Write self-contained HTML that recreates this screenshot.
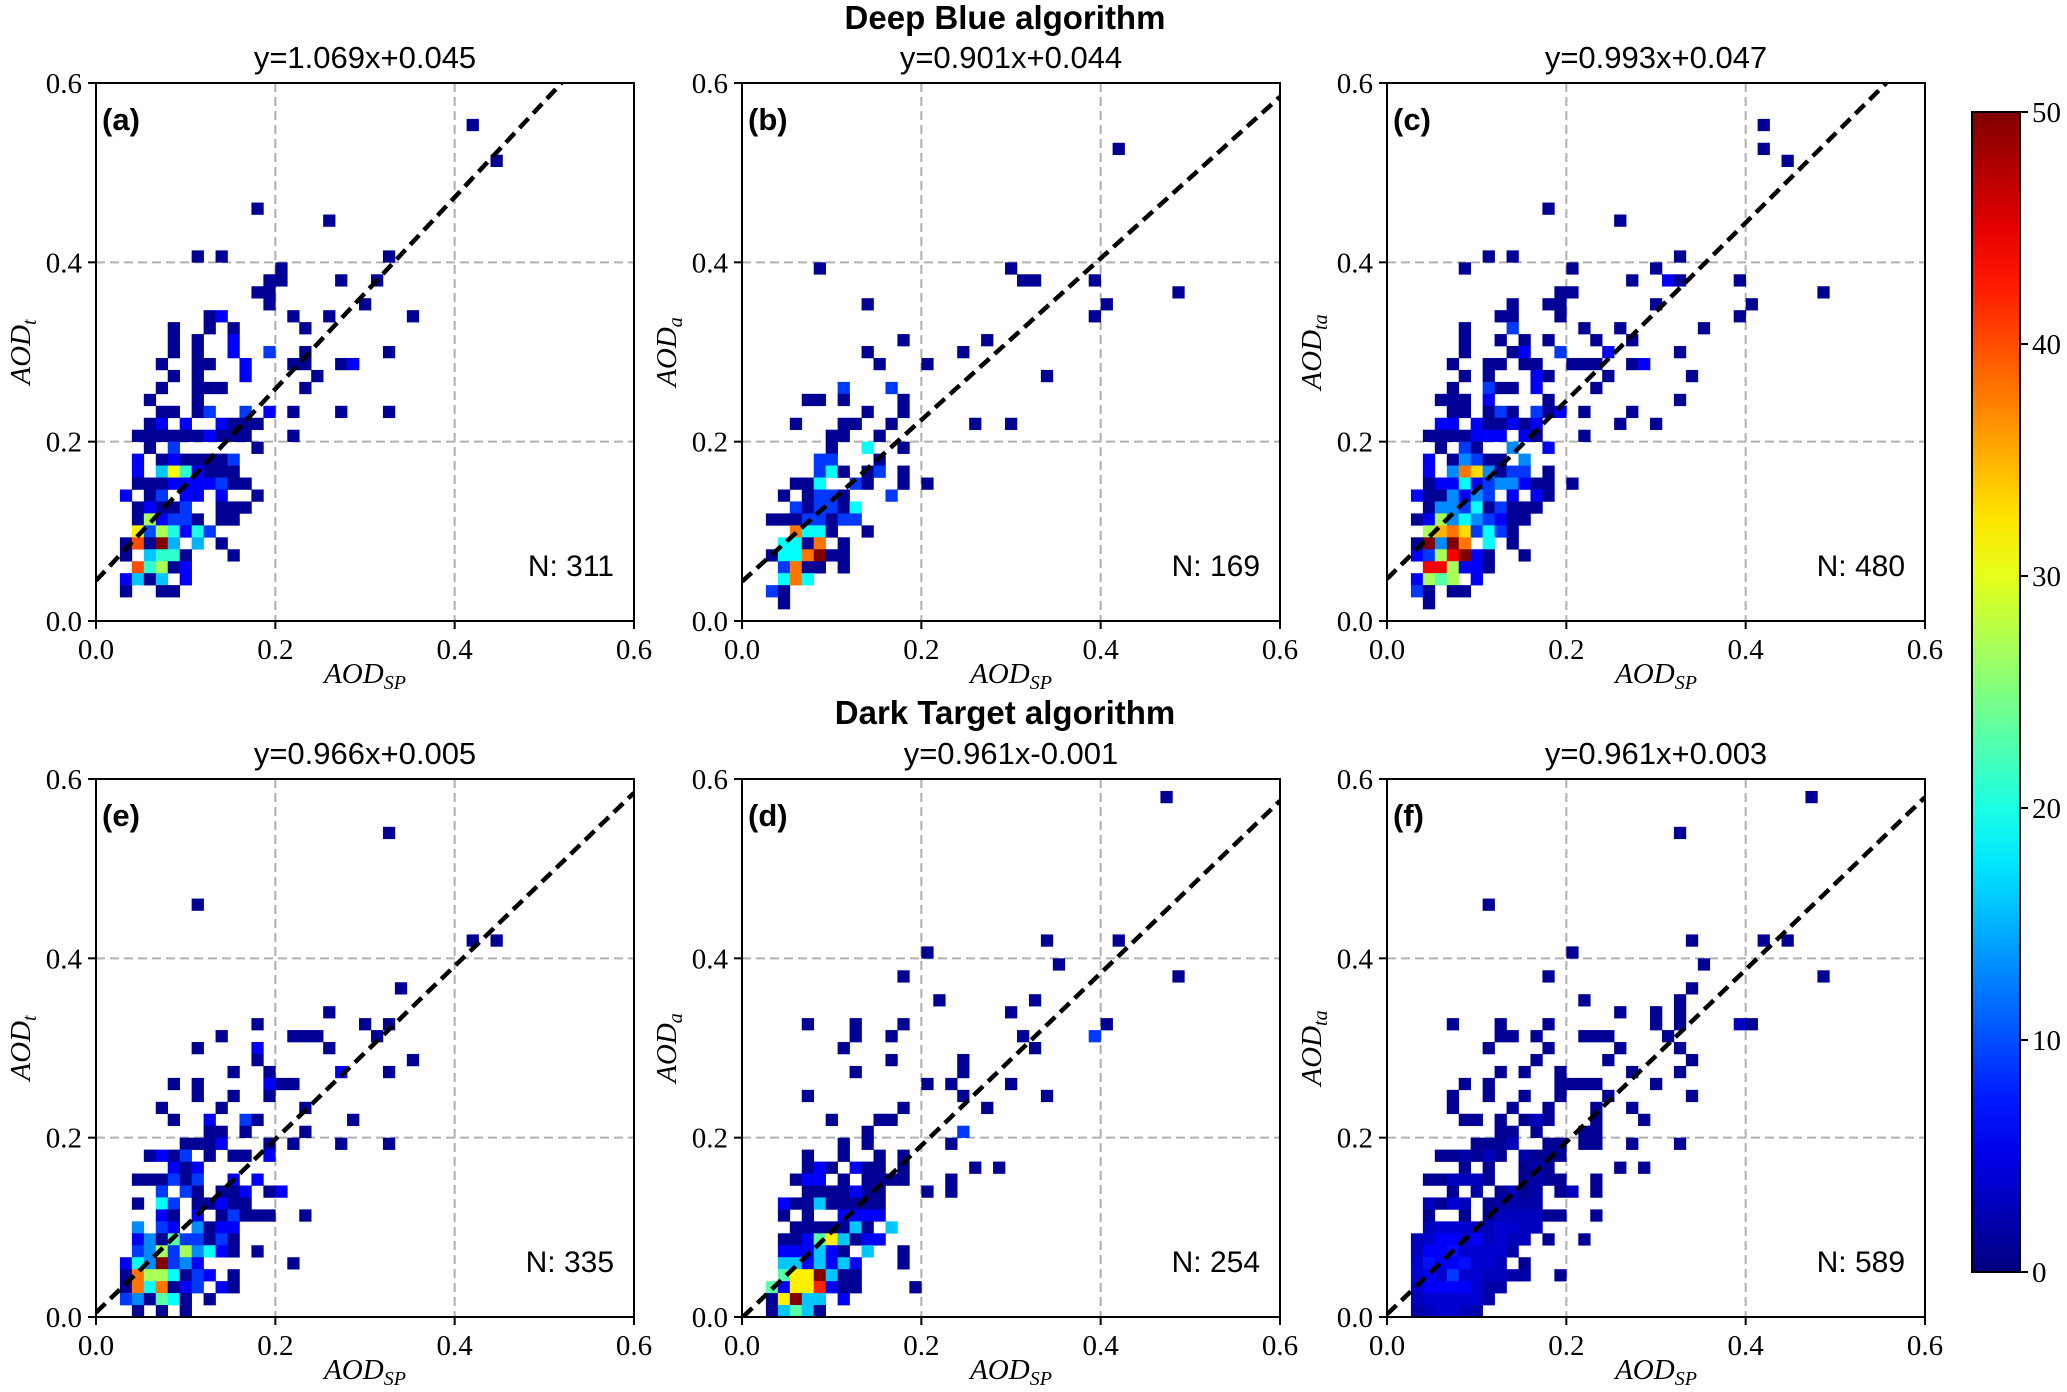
<!DOCTYPE html>
<html><head><meta charset="utf-8"><style>
html,body{margin:0;padding:0;background:#fff;}
svg{display:block;}
.sans{font-family:"Liberation Sans",sans-serif;}
.serif{font-family:"Liberation Serif",serif;}
</style></head>
<body>
<svg id="fig" width="2067" height="1392" viewBox="0 0 2067 1392" xmlns="http://www.w3.org/2000/svg">
<text x="1005" y="29" text-anchor="middle" class="sans" font-size="33" font-weight="bold">Deep Blue algorithm</text>
<text x="1005" y="724" text-anchor="middle" class="sans" font-size="33" font-weight="bold">Dark Target algorithm</text>
</svg>
<script>
const panelLetters = ["(a)","(b)","(c)","(e)","(d)","(f)"];
const slopes = [1.069,0.901,0.993,0.966,0.961,0.961];
const intercepts = [0.045,0.044,0.047,0.005,-0.001,0.003];
const titles = ["y=1.069x+0.045","y=0.901x+0.044","y=0.993x+0.047","y=0.966x+0.005","y=0.961x-0.001","y=0.961x+0.003"];
const nLabels = ["N: 311","N: 169","N: 480","N: 335","N: 254","N: 589"];
const ySubs = ["t","a","ta","t","a","ta"];
const tickValues = [0,0.2,0.4,0.6];
const tickLabels = ["0.0","0.2","0.4","0.6"];
const cbTicks = [0,10,20,30,40,50];
const binWidth = 0.6/45;
// rows: [j, [[i,count],...]]
const cellsA = [
[41,[[31,1]]],[38,[[33,1]]],[34,[[13,1]]],[33,[[19,1]]],[30,[[8,1],[10,1],[24,1]]],[29,[[15,1]]],
[28,[[14,1],[15,1],[20,1],[23,1]]],[27,[[13,1],[14,1]]],[26,[[14,1],[22,1]]],
[25,[[9,1],[10,6],[16,1],[19,1],[26,1]]],[24,[[6,1],[9,1],[11,1],[17,1]]],[23,[[6,1],[8,1],[11,6]]],
[22,[[6,1],[8,1],[11,6],[14,9],[17,1],[24,1]]],[21,[[5,1],[8,1],[9,1],[12,6],[16,1],[17,1],[20,1],[21,6]]],
[20,[[6,1],[8,1],[12,6],[18,1]]],[19,[[5,1],[8,1],[9,1],[10,1],[17,1]]],[18,[[4,1],[8,1]]],
[17,[[5,1],[6,1],[8,1],[9,9],[12,9],[14,6],[16,1],[20,1],[24,1]]],
[16,[[4,1],[5,6],[7,6],[10,6],[11,1],[12,1],[13,1]]],
[15,[[3,1],[4,1],[5,1],[6,1],[7,1],[8,1],[9,6],[10,1],[11,1],[12,1],[16,1]]],
[14,[[4,1],[6,9],[13,1]]],[13,[[3,6],[5,1],[6,6],[7,1],[8,1],[9,1],[10,1],[11,9]]],
[12,[[3,6],[5,16],[6,31],[7,21],[8,6],[9,1],[10,1],[11,1]]],
[11,[[3,1],[4,1],[5,1],[6,6],[7,6],[8,6],[9,6],[10,9],[11,1],[12,1]]],
[10,[[2,6],[4,1],[5,9],[7,6],[8,6],[10,6],[13,1]]],[9,[[3,1],[4,6],[5,1],[6,1],[7,9],[10,1],[11,1],[12,1]]],
[8,[[3,1],[4,27],[5,6],[6,9],[7,9],[8,1],[10,1],[11,1]]],[7,[[3,32],[4,10],[5,27],[6,20],[7,6],[8,20],[9,9]]],
[6,[[2,1],[3,40],[4,1],[5,50],[6,15],[8,15],[10,1]]],[5,[[2,1],[4,16],[5,21],[6,21],[7,1],[11,1]]],
[4,[[3,40],[4,21],[5,27],[6,1],[7,6]]],[3,[[2,6],[3,16],[4,1],[5,16],[7,6]]],[2,[[2,1],[5,1],[6,1]]]
];
const cellsB = [
[39,[[31,1]]],[29,[[6,1],[22,1]]],[28,[[23,1],[24,1],[29,1]]],[27,[[36,1]]],[26,[[10,1],[30,1]]],[25,[[29,1]]],
[23,[[13,1],[20,1]]],[22,[[10,1],[18,1]]],[21,[[11,1],[15,1]]],[20,[[25,1]]],[19,[[8,9],[12,9]]],
[18,[[5,1],[6,1],[8,1],[13,1]]],[17,[[10,1],[13,1]]],[16,[[4,1],[8,1],[9,1],[12,1],[19,1],[22,1]]],
[15,[[7,1],[8,1],[11,1]]],[14,[[7,1],[10,19],[13,1]]],[13,[[6,9],[7,9],[11,1]]],
[12,[[6,9],[7,19],[8,1],[10,1],[11,9],[13,1]]],[11,[[4,1],[5,1],[6,19],[9,9],[10,1],[13,1],[15,1]]],
[10,[[3,1],[5,1],[6,9],[7,9],[8,1],[12,9]]],[9,[[4,9],[5,1],[6,9],[7,9],[8,1],[9,19]]],
[8,[[2,1],[3,1],[4,1],[5,9],[6,9],[7,1],[8,9],[9,9]]],[7,[[4,38],[5,19],[6,19],[7,1],[10,1]]],
[6,[[3,19],[4,19],[5,1],[6,38],[8,1]]],[5,[[2,1],[3,19],[4,19],[5,38],[6,50],[7,1],[8,1]]],
[4,[[3,9],[4,38],[5,1],[6,1],[8,1]]],[3,[[3,19],[4,38],[5,19]]],[2,[[2,9],[3,1]]],[1,[[3,1]]]
];
const cellsC = [
[41,[[31,1]]],[39,[[31,1]]],[38,[[33,1]]],[34,[[13,1]]],[33,[[19,1]]],[30,[[8,1],[10,1],[24,1]]],
[29,[[6,1],[15,1],[22,1]]],[28,[[20,1],[23,6],[24,1],[29,1]]],[27,[[14,1],[15,1],[36,1]]],
[26,[[10,1],[13,1],[14,1],[22,1],[30,1]]],[25,[[9,1],[10,1],[14,1],[29,1]]],
[24,[[6,1],[10,9],[16,1],[19,1],[26,1]]],[23,[[6,1],[9,1],[11,1],[13,1],[17,1],[20,1]]],
[22,[[6,1],[10,1],[11,6],[14,9],[18,6],[24,1]]],
[21,[[5,1],[8,1],[9,1],[11,1],[12,1],[15,1],[16,1],[17,1],[20,1],[21,6]]],
[20,[[6,1],[8,1],[12,6],[13,1],[18,1],[25,1]]],[19,[[5,1],[8,9],[9,1],[10,1],[12,6],[17,1]]],
[18,[[4,1],[5,1],[6,1],[8,6],[13,1],[24,1]]],
[17,[[5,1],[6,1],[8,1],[9,9],[10,1],[12,9],[13,1],[14,6],[16,1],[20,1]]],
[16,[[4,6],[5,6],[7,6],[8,1],[9,1],[10,6],[11,1],[12,6],[19,1],[22,1]]],
[15,[[3,1],[4,1],[5,1],[6,1],[7,6],[8,6],[9,6],[11,6],[12,1],[16,1]]],
[14,[[4,1],[6,9],[7,1],[10,13],[13,6]]],[13,[[3,6],[5,1],[6,13],[7,9],[8,1],[9,1],[11,13]]],
[12,[[3,6],[5,13],[6,38],[7,33],[8,13],[9,1],[10,9],[11,9],[13,1]]],
[11,[[3,1],[4,6],[5,6],[6,19],[7,6],[8,9],[9,13],[10,13],[11,6],[12,1],[13,1],[15,1]]],
[10,[[2,6],[3,1],[4,1],[5,13],[6,6],[7,13],[8,9],[10,6],[12,6],[13,1]]],
[9,[[3,1],[4,13],[5,13],[6,9],[7,19],[8,1],[9,9],[10,1],[11,1],[12,1]]],
[8,[[2,1],[3,6],[4,27],[5,13],[6,19],[7,13],[8,9],[9,6],[10,1],[11,1]]],
[7,[[3,27],[4,35],[5,38],[6,33],[7,9],[8,19],[9,9],[10,1]]],
[6,[[2,1],[3,50],[4,13],[5,50],[6,38],[8,19],[10,1]]],
[5,[[2,6],[3,9],[4,27],[5,44],[6,50],[7,6],[8,1],[11,1]]],
[4,[[3,44],[4,44],[5,27],[6,6],[7,6],[8,1]]],[3,[[2,6],[3,27],[4,23],[5,27],[7,6]]],
[2,[[2,9],[3,1],[5,1],[6,1]]],[1,[[3,1]]]
];
const cellsE = [
[40,[[24,1]]],[34,[[8,1]]],[31,[[31,1],[33,1]]],[27,[[25,1]]],[25,[[19,1]]],[24,[[13,1],[22,1],[24,1]]],
[23,[[10,1],[16,1],[17,1],[18,1],[23,1]]],[22,[[8,1],[13,6],[19,1]]],[21,[[13,1],[26,1]]],
[20,[[11,1],[14,1],[20,6],[24,1]]],[19,[[6,1],[8,1],[14,6],[15,1],[16,1]]],[18,[[8,1],[11,1],[14,1]]],
[17,[[5,1],[10,1],[17,1]]],[16,[[6,1],[9,6],[12,9],[13,1],[21,1]]],[15,[[9,1],[10,1],[12,1],[17,1]]],
[14,[[7,1],[8,1],[9,1],[10,6],[14,1],[16,1],[20,1],[24,1]]],
[13,[[4,1],[5,6],[6,1],[7,9],[9,1],[11,1],[12,1],[14,6]]],[12,[[6,6],[7,1],[8,6]]],
[11,[[3,1],[4,1],[5,1],[6,9],[7,1],[8,9],[11,6],[13,6]]],
[10,[[5,9],[7,9],[8,1],[10,1],[11,1],[12,6],[14,1],[15,6]]],
[9,[[3,1],[5,19],[6,9],[8,1],[9,1],[10,6],[11,1],[12,1]]],
[8,[[5,6],[6,1],[8,6],[10,1],[11,9],[12,1],[13,1],[14,1],[17,1]]],
[7,[[3,13],[5,9],[6,6],[8,13],[9,1],[10,6],[11,6]]],
[6,[[3,6],[4,13],[5,1],[6,23],[7,9],[8,9],[9,1],[10,9],[11,1]]],
[5,[[3,9],[4,13],[5,27],[6,9],[7,27],[8,13],[9,19],[10,6],[11,1],[13,1]]],
[4,[[2,6],[3,19],[4,13],[5,50],[6,9],[7,13],[8,6],[16,1]]],
[3,[[2,1],[3,38],[4,27],[5,27],[6,19],[7,1],[8,9],[9,6],[11,1]]],
[2,[[2,1],[3,38],[4,19],[5,38],[6,1],[7,6],[8,9],[10,6],[11,1]]],
[1,[[2,9],[3,13],[4,1],[5,23],[6,19],[7,1],[9,1]]],[0,[[3,1],[5,1],[7,1]]]
];
const cellsD = [
[43,[[35,1]]],[31,[[25,1],[31,1]]],[30,[[15,1]]],[29,[[26,1]]],[28,[[13,1],[36,1]]],[26,[[16,1],[24,1]]],
[25,[[22,1]]],[24,[[5,1],[9,1],[13,1],[30,1]]],[23,[[9,1],[12,1],[23,1],[29,9]]],[22,[[8,1],[24,1]]],
[21,[[12,1],[18,1]]],[20,[[9,1],[18,1]]],[19,[[15,1],[17,1],[22,1]]],[18,[[5,1],[18,1],[25,1]]],
[17,[[13,1],[20,1]]],[16,[[7,1],[11,1],[12,1]]],[15,[[10,1],[18,9]]],[14,[[8,1],[10,1],[17,1]]],
[13,[[5,1],[8,1],[11,1],[13,1]]],
[12,[[5,1],[6,6],[7,1],[9,6],[10,1],[11,1],[13,1],[19,1],[21,1]]],
[11,[[4,1],[5,6],[6,6],[8,1],[10,1],[11,1],[12,1],[13,1],[17,1]]],
[10,[[5,1],[6,1],[7,1],[8,1],[9,6],[10,1],[11,1],[15,1],[17,1]]],
[9,[[3,6],[4,1],[5,1],[6,16],[7,1],[8,1],[9,1],[10,1],[11,1]]],
[8,[[3,1],[5,1],[8,6],[9,6],[10,6],[11,6]]],
[7,[[4,1],[5,1],[6,1],[7,1],[8,1],[9,16],[10,1],[12,16]]],
[6,[[3,1],[4,1],[5,6],[6,23],[7,32],[8,16],[9,1],[10,6],[11,6]]],
[5,[[3,6],[4,6],[5,6],[6,16],[7,6],[8,1],[10,16],[13,1]]],
[4,[[3,16],[4,16],[5,6],[6,16],[7,6],[8,16],[9,6],[13,1]]],
[3,[[3,23],[4,32],[5,32],[6,50],[7,16],[8,1],[9,1]]],
[2,[[2,23],[3,6],[4,32],[5,32],[6,42],[7,6],[8,1],[9,1],[14,1]]],
[1,[[2,1],[3,32],[4,50],[5,16],[6,16],[8,6]]],[0,[[2,1],[3,16],[4,23],[5,16],[6,1]]]
];
const cellsF = [
[43,[[35,1]]],[40,[[24,1]]],[34,[[8,1]]],[31,[[25,1],[31,1],[33,1]]],[30,[[15,1]]],[29,[[26,1]]],
[28,[[13,1],[36,1]]],[27,[[25,1]]],[26,[[16,1],[24,1]]],[25,[[19,1],[22,1],[24,1]]],
[24,[[5,1],[9,1],[13,1],[22,1],[24,1],[29,3],[30,1]]],[23,[[9,1],[10,1],[12,1],[16,1],[17,1],[18,1],[23,1]]],
[22,[[8,1],[13,1],[19,1],[24,1]]],[21,[[12,1],[18,1],[25,1]]],[20,[[9,1],[11,1],[14,1],[20,1],[24,1]]],
[19,[[6,1],[8,1],[14,1],[15,1],[16,1],[17,1],[22,1]]],[18,[[5,1],[8,1],[11,1],[14,1],[18,1],[25,1]]],
[17,[[5,1],[10,1],[13,1],[17,1],[20,1]]],[16,[[6,1],[7,1],[9,1],[11,1],[12,3],[13,1],[17,1],[21,1]]],
[15,[[9,1],[10,1],[12,1],[16,1],[17,1]]],
[14,[[7,1],[8,1],[9,1],[10,3],[13,1],[14,1],[16,1],[17,1],[20,1],[24,1]]],
[13,[[4,1],[5,1],[6,2],[7,1],[8,3],[9,1],[11,2],[12,1],[13,1],[14,1]]],
[12,[[6,1],[8,1],[11,1],[12,2],[13,1],[19,1],[21,1]]],
[11,[[3,1],[4,1],[5,3],[6,3],[7,3],[8,1],[11,1],[12,2],[13,1],[14,1],[17,1]]],
[10,[[5,1],[7,2],[9,1],[10,3],[11,1],[12,2],[14,1],[15,3],[17,1]]],
[9,[[3,3],[4,1],[5,4],[6,3],[8,1],[9,2],[10,2],[11,2],[12,2]]],
[8,[[3,1],[6,1],[8,1],[9,3],[10,3],[11,3],[12,3],[13,1],[14,1],[17,1]]],
[7,[[3,3],[4,4],[5,4],[6,4],[7,3],[8,3],[9,4],[10,4],[11,3],[12,3]]],
[6,[[2,3],[3,4],[4,6],[5,6],[6,4],[7,6],[8,3],[9,4],[10,3],[11,3],[13,1],[16,1]]],
[5,[[2,3],[3,6],[4,6],[5,7],[6,4],[7,4],[8,4],[9,4],[10,2]]],
[4,[[2,4],[3,7],[4,6],[5,6],[6,7],[7,4],[8,4],[9,3],[11,1]]],
[3,[[2,4],[3,6],[4,4],[5,9],[6,4],[7,4],[8,3],[9,3],[10,2],[11,2],[14,1]]],
[2,[[2,4],[3,6],[4,6],[5,6],[6,6],[7,4],[8,2],[9,2]]],
[1,[[2,3],[3,4],[4,4],[5,4],[6,4],[7,4],[8,2]]],
[0,[[2,2],[3,3],[4,4],[5,4],[6,3],[7,2]]]
];
const allCells = [cellsA,cellsB,cellsC,cellsE,cellsD,cellsF];

const NS = "http://www.w3.org/2000/svg";
const svg = document.getElementById("fig");
const PL = [96,742,1387,96,742,1387];
const PT = [83,83,83,779,779,779];
const PS = 538;
function mk(tag, attrs, parent){
  const e = document.createElementNS(NS, tag);
  for (const k in attrs) e.setAttribute(k, attrs[k]);
  (parent||svg).appendChild(e);
  return e;
}
function clip01(v){return Math.max(0,Math.min(1,v));}
function jet(t){
  const r = clip01(1.5-Math.abs(4*t-3)), g = clip01(1.5-Math.abs(4*t-2)), b = clip01(1.5-Math.abs(4*t-1));
  return "rgb("+Math.round(r*255)+","+Math.round(g*255)+","+Math.round(b*255)+")";
}
const defs = mk("defs",{});
for (let p=0;p<6;p++){
  const L=PL[p], T=PT[p];
  const sx = v => L + v/0.6*PS;
  const sy = v => T + PS - v/0.6*PS;
  const g = mk("g",{});
  
  
  const cp = mk("clipPath",{id:"cp"+p}, defs);
  mk("rect",{x:L,y:T,width:PS,height:PS}, cp);
  for (const v of [0.2,0.4]){
    const gx = mk("line",{x1:sx(v),x2:sx(v),y1:T,y2:T+PS,stroke:"#b0b0b0","stroke-width":2,"stroke-dasharray":"9,5"},g);
    
    
    const gy = mk("line",{x1:L,x2:L+PS,y1:sy(v),y2:sy(v),stroke:"#b0b0b0","stroke-width":2,"stroke-dasharray":"9,5"},g);
    
    
  }
  const cg = mk("g",{"clip-path":"url(#cp"+p+")"},g);
  for (const row of allCells[p]){
    const j=row[0];
    for (const c of row[1]){
      const x0 = sx(c[0]*binWidth), y1 = sy(j*binWidth);
      const w = sx((c[0]+1)*binWidth)-x0, h = y1 - sy((j+1)*binWidth);
      const r = mk("rect",{x:x0.toFixed(2),y:(y1-h).toFixed(2),width:(w+0.3).toFixed(2),height:(h+0.3).toFixed(2),fill:jet(c[1]/50)},cg);
      
      
    }
  }
  const m=slopes[p], b=intercepts[p];
  let xa = b<0 ? -b/m : 0;
  let xb = Math.min(0.6,(0.6-b)/m);
  const ln = mk("line",{x1:sx(xa),y1:sy(m*xa+b),x2:sx(xb),y2:sy(m*xb+b),stroke:"#000","stroke-width":4.5,"stroke-dasharray":"13,7","clip-path":"url(#cp"+p+")"},g);
  
  
  const fr = mk("rect",{x:L,y:T,width:PS,height:PS,fill:"none",stroke:"#000","stroke-width":2},g);
  
  
  for (let k=0;k<tickValues.length;k++){
    const v=tickValues[k];
    mk("line",{x1:sx(v),x2:sx(v),y1:T+PS,y2:T+PS+8,stroke:"#000","stroke-width":2},g);
    mk("line",{x1:L-8,x2:L,y1:sy(v),y2:sy(v),stroke:"#000","stroke-width":2},g);
    const xt = mk("text",{x:sx(v),y:T+PS+38,"text-anchor":"middle","class":"serif","font-size":29},g);
    xt.textContent = tickLabels[k];
    
    
    const yt = mk("text",{x:L-14,y:sy(v)+10,"text-anchor":"end","class":"serif","font-size":29},g);
    yt.textContent = tickLabels[k];
    
    
  }
  const xl = mk("text",{x:L+PS/2,y:T+PS+62,"text-anchor":"middle","class":"serif","font-size":29,"font-style":"italic"},g);
  xl.innerHTML = 'AOD<tspan font-size="20" dy="6">SP</tspan>';
  
  
  const yl = mk("text",{x:0,y:0,"text-anchor":"middle","class":"serif","font-size":29,"font-style":"italic",transform:"translate("+(L-66)+","+(T+PS/2)+") rotate(-90)"},g);
  yl.innerHTML = 'AOD<tspan font-size="20" dy="6">'+ySubs[p]+'</tspan>';
  
  
  const tt = mk("text",{x:L+PS/2,y:T-15,"text-anchor":"middle","class":"sans","font-size":31},g);
  tt.textContent = titles[p];
  
  
  const lt = mk("text",{x:L+6,y:T+47,"class":"sans","font-size":31,"font-weight":"bold"},g);
  lt.textContent = panelLetters[p];
  
  
  const nt = mk("text",{x:L+PS-20,y:T+493,"text-anchor":"end","class":"sans","font-size":30},g);
  nt.textContent = nLabels[p];
  
  
}
const cbX=1972, cbW=48, cbTop=112, cbBot=1272;
const grad = mk("linearGradient",{id:"jetg",x1:0,y1:1,x2:0,y2:0},defs);
for (let k=0;k<=20;k++){
  mk("stop",{offset:(k/20),"stop-color":jet(k/20)},grad);
}
const cb = mk("rect",{x:cbX,y:cbTop,width:cbW,height:cbBot-cbTop,fill:"url(#jetg)",stroke:"#000","stroke-width":2});


for (const t of cbTicks){
  const y = cbBot - t/50*(cbBot-cbTop);
  mk("line",{x1:cbX+cbW,x2:cbX+cbW+8,y1:y,y2:y,stroke:"#000","stroke-width":2});
  const ct = mk("text",{x:cbX+cbW+12,y:y+10,"class":"serif","font-size":29});
  ct.textContent = String(t);
  
  
}
</script>
</body></html>
